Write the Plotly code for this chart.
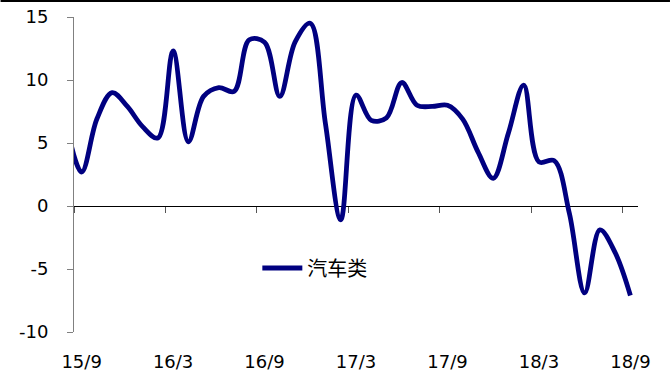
import plotly.graph_objects as go

# Month index (0 = 15/9); the first value (15/8) lies just outside the visible range
months = list(range(-1, 37))
values = [6.5, 2.7, 6.9, 9.0, 7.9, 6.3, 5.4, 12.3, 5.1, 8.7, 9.4, 9.1, 13.2, 13.0,
          8.7, 13.0, 14.5, 6.5, -1.1, 8.8, 6.8, 7.0, 9.8, 8.0, 7.9, 8.0, 6.9,
          4.3, 2.2, 5.8, 9.6, 3.5, 3.6, -0.6, -6.9, -1.9, -3.7, -7.1]
tick_pos = [0, 6, 12, 18, 24, 30, 36]
tick_labels = ["15/9", "16/3", "16/9", "17/3", "17/9", "18/3", "18/9"]
boundary_ticks = [p - 0.5 for p in tick_pos]
y_ticks = [-10, -5, 0, 5, 10, 15]
y_labels = ["-10", "-5", "0", "5", "10", "15"]
series_name = "汽车类"

W, H = 670, 374
ml, mr, mt, mb = 73.5, 32, 17, 42
pw, ph = W - ml - mr, H - mt - mb

fig = go.Figure()
fig.add_trace(go.Scatter(
    x=months, y=values, mode="lines", name=series_name,
    line=dict(color="#000080", width=4.8, shape="spline", smoothing=1.0),
))
# invisible trace to anchor the tick-mark axis
fig.add_trace(go.Scatter(x=[-0.5], y=[0], xaxis="x2", mode="markers",
                         marker=dict(opacity=0), showlegend=False, hoverinfo="skip"))

font = dict(family="DejaVu Sans, Liberation Sans, Arial, sans-serif", size=18, color="#000000")

fig.update_layout(
    width=W, height=H,
    margin=dict(l=ml, r=mr, t=mt, b=mb, pad=0, autoexpand=False),
    paper_bgcolor="white", plot_bgcolor="white",
    showlegend=True,
    legend=dict(x=(257 - ml) / pw, y=(H - mb - 268) / ph, xanchor="left", yanchor="middle",
                bgcolor="rgba(0,0,0,0)", borderwidth=0,
                font=dict(family="Noto Sans CJK SC", size=20, color="#000000"),
                itemwidth=40),
    xaxis=dict(range=[-0.5, 36.5], tickvals=tick_pos, ticktext=tick_labels,
               showgrid=False, zeroline=False, showline=False, ticks="",
               tickfont=font, ticklabelstandoff=17, automargin=False),
    xaxis2=dict(range=[-0.5, 36.5], overlaying="x", anchor="free", position=0.4,
                tickvals=boundary_ticks, ticks="outside", ticklen=6, tickcolor="#555555",
                showticklabels=False, showgrid=False, zeroline=False, showline=False,
                automargin=False),
    yaxis=dict(range=[-10, 15], tickvals=y_ticks, ticktext=y_labels,
               showgrid=False, zeroline=True, zerolinecolor="#000000", zerolinewidth=1,
               showline=True, linecolor="#808080", linewidth=1,
               ticks="outside", ticklen=6, tickcolor="#808080",
               tickfont=font, ticklabelstandoff=15, automargin=False),
    shapes=[dict(type="rect", xref="paper", yref="paper",
                 x0=-ml / pw, x1=1 + mr / pw,
                 y0=1 + (mt - 2) / ph, y1=1 + mt / ph,
                 fillcolor="#000000", line=dict(width=0))],
)

fig.write_html("out.html")
